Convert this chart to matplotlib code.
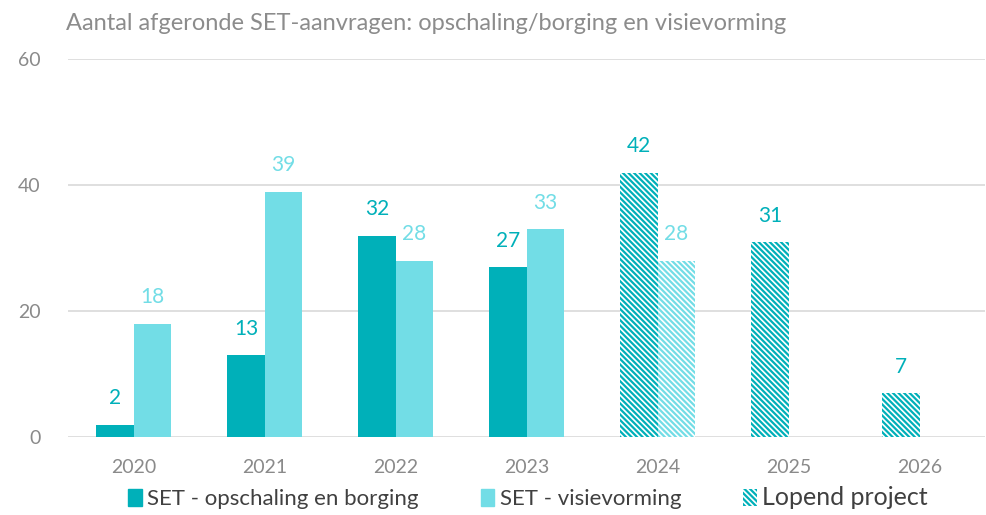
import matplotlib.pyplot as plt
import matplotlib.patches as mpatches
import numpy as np

plt.rcParams['font.family'] = ['Lato', 'DejaVu Sans']
plt.rcParams['hatch.linewidth'] = 1.6

# Data
years = ['2020', '2021', '2022', '2023', '2024', '2025', '2026']
opschaling = [2, 13, 32, 27, 42, 31, 7]
visievorming = [18, 39, 28, 33, 28, None, None]
lopend = [False, False, False, False, True, True, True]

DARK = '#00B0B9'
LIGHT = '#72DDE6'
GREY = '#8A8A8A'
HATCH = '\\\\\\\\\\\\'

fig = plt.figure(figsize=(9.87, 5.15), dpi=100)
ax = fig.add_axes([0.069, 0.151, 0.929, 0.734])

x = np.arange(len(years))
width = 0.285

for i, yr in enumerate(years):
    for val, off, col in ((opschaling[i], -width / 2, DARK),
                          (visievorming[i], width / 2, LIGHT)):
        if val is None:
            continue
        if lopend[i]:
            ax.bar(x[i] + off, val, width, facecolor='white', edgecolor=col,
                   hatch=HATCH, linewidth=0)
        else:
            ax.bar(x[i] + off, val, width, color=col, linewidth=0)
        ax.text(x[i] + off, val + 2.6, str(val), ha='center', va='bottom',
                color=col, fontsize=15)

ax.set_xlim(-0.5, 6.5)
ax.set_ylim(0, 60)
ax.set_yticks([0, 20, 40, 60])
ax.set_xticks(x)
ax.set_xticklabels(years)
ax.tick_params(axis='both', length=0, labelsize=14, colors=GREY)
ax.tick_params(axis='y', pad=20)
ax.tick_params(axis='x', pad=16)
for s in ax.spines.values():
    s.set_visible(False)
ax.grid(axis='y', color='#D9D9D9', linewidth=1.2)
ax.set_axisbelow(True)

fig.text(0.067, 0.955, 'Aantal afgeronde SET-aanvragen: opschaling/borging en visievorming',
         fontsize=17, color='#8C8C8C', ha='left', va='center')

handles = [
    mpatches.Patch(color=DARK, label='SET - opschaling en borging'),
    mpatches.Patch(color=LIGHT, label='SET - visievorming'),
    mpatches.Patch(facecolor='white', edgecolor=DARK, hatch=HATCH,
                   linewidth=0, label='Lopend project'),
]
leg = fig.legend(handles=handles, loc='lower center', bbox_to_anchor=(0.535, -0.028),
                 ncol=3, frameon=False, fontsize=16, handlelength=0.6,
                 handleheight=0.8, handletextpad=0.25, columnspacing=2.8)
for t in leg.get_texts():
    t.set_color('#404040')
leg.get_texts()[2].set_fontsize(18)

fig.savefig('out.png', dpi=100)
